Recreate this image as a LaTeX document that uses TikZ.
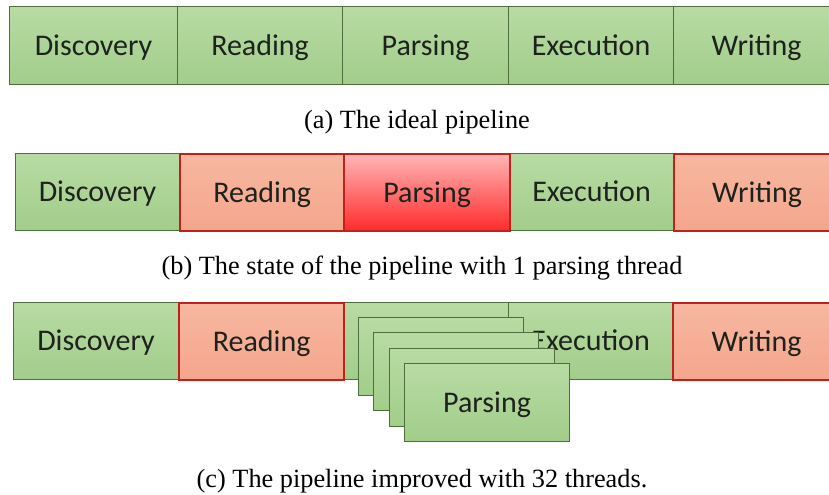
\documentclass[tikz,border=0pt]{standalone}
\usepackage{fontspec}
\setmainfont{Carlito}
\newfontfamily\capfont{Liberation Serif}
\definecolor{gfillT}{HTML}{B8DBA4}
\definecolor{gfillB}{HTML}{A2CD8A}
\definecolor{gline}{HTML}{4E6E3E}
\definecolor{sfillT}{HTML}{F7B7A0}
\definecolor{sfillB}{HTML}{F4A68C}
\definecolor{rline}{HTML}{C0211F}
\definecolor{pfillT}{HTML}{FFB6B6}
\definecolor{pfillB}{HTML}{FF2A2A}
\definecolor{ink}{HTML}{1E221C}

\tikzset{
  stage/.style={rectangle, anchor=north west, inner sep=0pt, minimum height=77bp,
    text height=19.5bp, text depth=0bp,
    font=\fontsize{30bp}{36bp}\selectfont, text=ink},
  okstage/.style={stage, draw=gline, line width=1.1bp, top color=gfillT, bottom color=gfillB},
  slowstage/.style={stage, draw=rline, line width=2.2bp, top color=sfillT, bottom color=sfillB},
  hotstage/.style={stage, draw=rline, line width=2.2bp, top color=pfillT, bottom color=pfillB},
  caption/.style={anchor=base, inner sep=0pt, font=\capfont\fontsize{26.3bp}{31bp}\selectfont, text=black},
}

\begin{document}
\begin{tikzpicture}[x=1bp, y=-1bp]
\useasboundingbox (0,0) rectangle (829,495);
\clip (0,0) rectangle (829,495);

% (a) all stages keep up
\node[okstage, minimum width=168bp, minimum height=78bp] (a1) at (9,6) {Discovery};
\node[okstage, minimum width=165bp, minimum height=78bp] (a2) at (177,6) {Reading};
\node[okstage, minimum width=166bp, minimum height=78bp] (a3) at (342,6) {Parsing};
\node[okstage, minimum width=165bp, minimum height=78bp] (a4) at (508,6) {Execution};
\node[okstage, minimum width=166bp, minimum height=78bp] (a5) at (673,6) {Writing};
\node[caption] (capA) at (417,129) {(a) The ideal pipeline};

% (b) a single parser is the bottleneck
\node[okstage, minimum width=164bp] (b1) at (15,153) {Discovery};
\node[okstage, minimum width=164bp] (b4) at (509,153) {Execution};
\node[slowstage, minimum width=164bp] (b2) at (179,153) {Reading};
\node[hotstage, minimum width=166bp] (b3) at (343,153) {Parsing};
\node[slowstage, minimum width=166bp] (b5) at (673,153) {Writing};
\node[caption] (capB) at (422,275) {(b) The state of the pipeline with 1 parsing thread};

% (c) parsing spread over many threads
\node[okstage, minimum width=165bp] (c1) at (13,302) {Discovery};
\node[okstage, minimum width=165bp] (c3) at (343,302) {};
\node[okstage, minimum width=164bp] (c4) at (508,302) {Execution};
\node[slowstage, minimum width=165bp] (c2) at (178,302) {Reading};
\node[slowstage, minimum width=167bp] (c5) at (672,302) {Writing};
\foreach \i in {0,1,2} {
  \node[okstage, minimum width=165bp, minimum height=78bp] (p\i) at ({358+15.3*\i},{317+15.3*\i}) {};
}
\node[okstage, minimum width=165bp, minimum height=78bp] (p3) at (404,363) {Parsing};
\node[caption] (capC) at (422,487) {(c) The pipeline improved with 32 threads.};
\end{tikzpicture}
\end{document}
